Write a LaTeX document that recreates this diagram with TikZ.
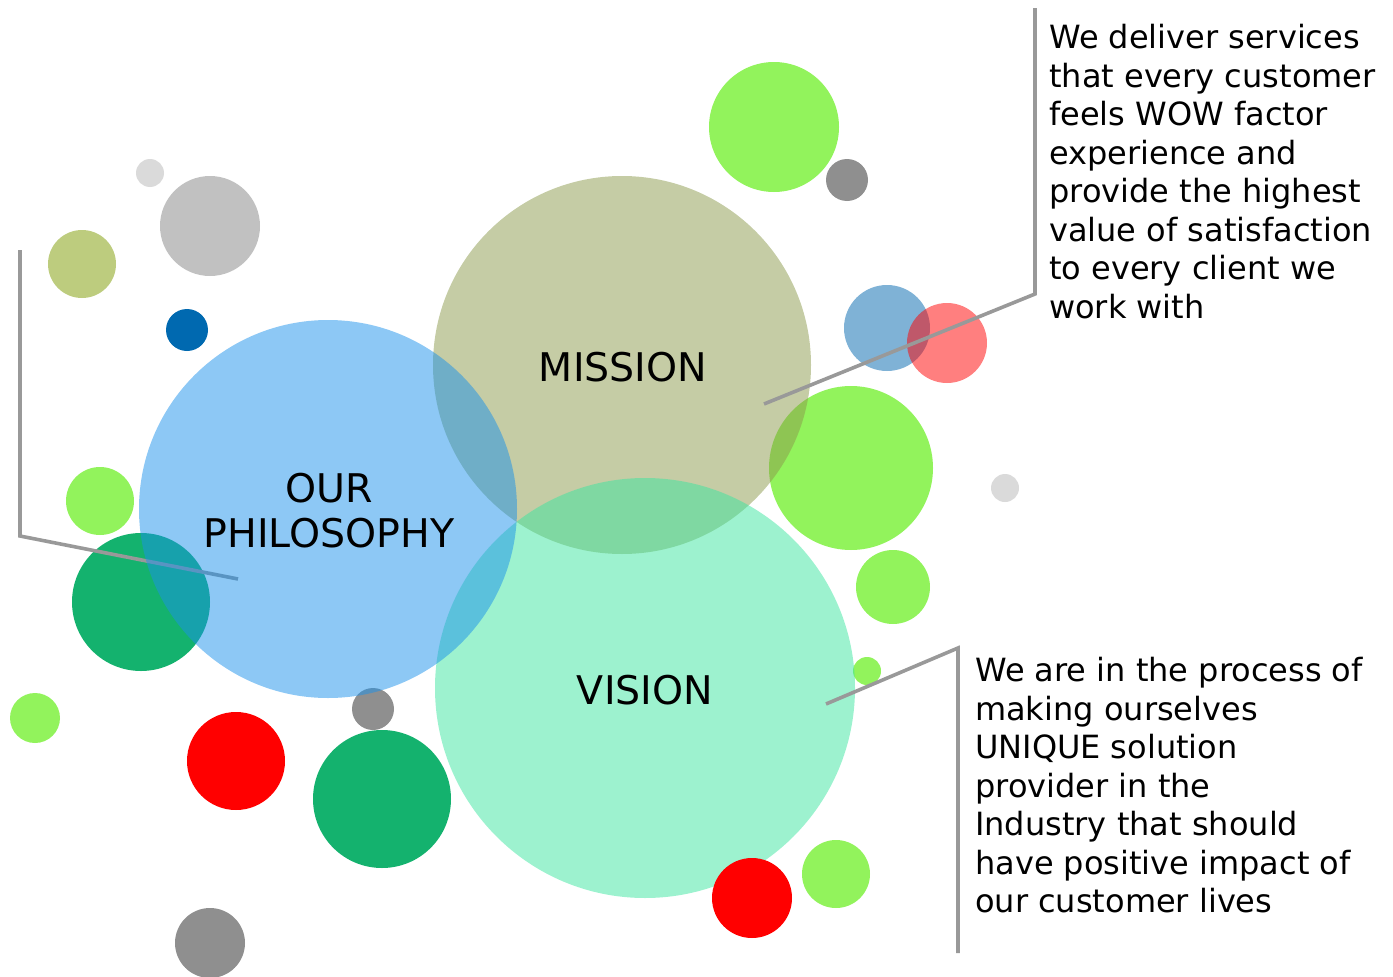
\documentclass[tikz,border=0pt]{standalone}
\usepackage{fontspec}
\setmainfont{DejaVu Sans}

\definecolor{philblue}{RGB}{27,145,235}
\definecolor{missolive}{RGB}{139,153,75}
\definecolor{visgreen}{RGB}{59,229,159}
\definecolor{lime}{RGB}{146,243,92}
\definecolor{deepgreen}{RGB}{20,178,110}
\definecolor{pale}{RGB}{218,218,218}
\definecolor{silver}{RGB}{193,193,193}
\definecolor{slate}{RGB}{143,143,143}
\definecolor{khaki}{RGB}{189,204,126}
\definecolor{navy}{RGB}{0,105,176}
\definecolor{steel}{RGB}{127,178,214}
\definecolor{leadgray}{RGB}{153,153,153}

\tikzset{bubble/.style={opacity=0.5},
         leader/.style={line width=3.6pt,leadgray},
         blurb/.style={anchor=north west,inner sep=0pt,align=left,font=\fontsize{32}{38.5}\selectfont},
         heading/.style={inner sep=0pt,align=center,font=\fontsize{39.5}{45}\selectfont}}

\begin{document}
\begin{tikzpicture}[x=1pt,y=-1pt]
                  \useasboundingbox (0,0) rectangle (1393,977);
                  % scattered dots
                  \fill[pale] (150,173) circle (14);
                  \fill[silver] (210,226) circle (50);
                  \fill[khaki] (82,264) circle (34);
                  \fill[navy] (187,330) circle (21);
                  \fill[lime] (100,501) circle (34);
                  \fill[deepgreen] (141,602) circle (69);
                  \fill[lime] (35,718) circle (25);
                  \fill[slate] (373,709) circle (21);
                  \fill[red] (236,761) circle (49);
                  \fill[deepgreen] (382,799) circle (69);
                  \fill[slate] (210,943) circle (35);
                  \fill[lime] (774,127) circle (65);
                  \fill[slate] (847,180) circle (21);
                  \fill[steel] (887,328) circle (43);
                  \fill[red,opacity=0.5] (947,343) circle (40);
                  \fill[lime] (851,468) circle (82);
                  \fill[pale] (1005,488) circle (14);
                  \fill[lime] (893,587) circle (37);
                  \fill[lime] (867,671) circle (14);
                  \fill[lime] (836,874) circle (34);
                  % big circles
                  \fill[bubble,missolive] (622,365) circle (189);
                  \fill[bubble,visgreen] (645,688) circle (210);
                  \coordinate (philtop) at (20,250);
                  \coordinate (philbend) at (20,536);
                  \coordinate (philend) at (238,579);
                  \draw[leader] (philtop) -- (philbend) -- (philend);
                  \fill[bubble,philblue] (328,509) circle (189);
                  \coordinate (missend) at (764,404);
                  \coordinate (missbend) at (1035,294);
                  \coordinate (misstop) at (1035,8);
                  \draw[leader] (missend) -- (missbend) -- (misstop);
                  \coordinate (visend) at (826,704);
                  \coordinate (visbend) at (958,648);
                  \coordinate (visbot) at (958,953);
                  \draw[leader] (visend) -- (visbend) -- (visbot);
                  \fill[red] (752,898) circle (40);
                  % labels
                  \node[heading] (philosophy) at (329,511) {OUR\\PHILOSOPHY};
                  \node[heading] (mission) at (623,367) {MISSION};
                  \node[heading] (vision) at (645,690) {VISION};
                  \node[blurb] (missiontext) at (1049,24) {We deliver services\\that every customer\\feels WOW factor\\experience and\\provide the highest\\value of satisfaction\\to every client we\\work with};
                  \node[blurb] (visiontext) at (975,657) {We are in the process of\\making ourselves\\UNIQUE solution\\provider in the\\Industry that should\\have positive impact of\\our customer lives};
              \end{tikzpicture}
\end{document}
